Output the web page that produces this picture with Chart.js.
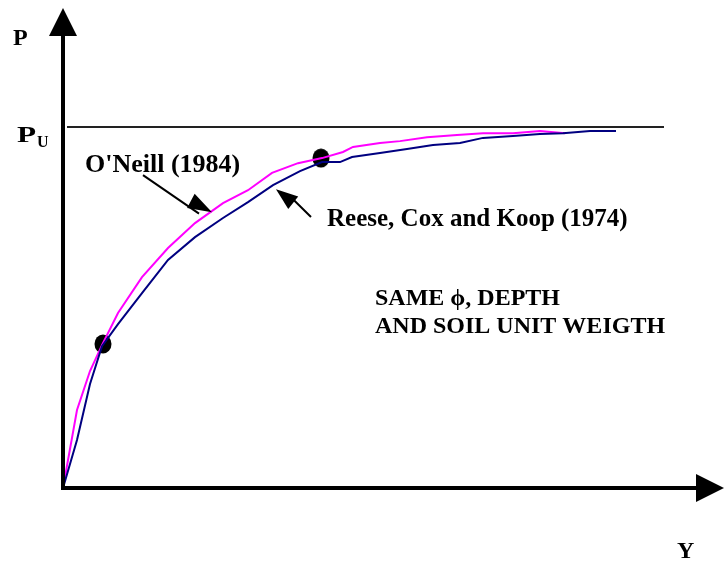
<!DOCTYPE html>
<html>
<head>
<meta charset="utf-8">
<script src="https://cdn.jsdelivr.net/npm/chart.js@4"></script>
<style>
  html, body { margin: 0; padding: 0; background: #fff; }
  #wrap { width: 724px; height: 564px; position: relative; }
</style>
</head>
<body>
<div id="wrap"><canvas id="py-chart"></canvas></div>
<script>
// deflection Y (arbitrary units) and load ratio P / Pu
const oneillY = [0, 0.14, 0.27, 0.39, 0.55, 0.79, 1.05, 1.32, 1.60, 1.85, 2.09, 2.35, 2.59, 2.80, 2.90, 3.17, 3.37, 3.64, 3.94, 4.20, 4.50, 4.77, 5.02];
const oneillP = [0, 0.216, 0.324, 0.396, 0.485, 0.584, 0.665, 0.734, 0.789, 0.825, 0.873, 0.900, 0.914, 0.931, 0.945, 0.956, 0.961, 0.972, 0.978, 0.983, 0.983, 0.989, 0.983];

const reeseY = [0, 0.14, 0.27, 0.39, 0.55, 0.79, 1.05, 1.32, 1.60, 1.85, 2.10, 2.37, 2.59, 2.77, 2.89, 3.17, 3.44, 3.70, 3.97, 4.20, 4.50, 4.77, 5.00, 5.27, 5.53];
const reeseP = [0, 0.133, 0.288, 0.393, 0.454, 0.540, 0.632, 0.695, 0.748, 0.792, 0.839, 0.878, 0.903, 0.903, 0.917, 0.928, 0.939, 0.950, 0.956, 0.970, 0.975, 0.981, 0.983, 0.989, 0.989];

const ultimateY = [0.04, 6.01];
const ultimateP = [1, 1];

const markerY = [0.40, 2.58];
const markerP = [0.399, 0.914];

const toPoints = (xs, ys) => xs.map((x, i) => ({x: x, y: ys[i]}));

const FONT = "'Liberation Serif', 'Times New Roman', serif";

// slightly tall black dot like the original markers
function makeDot() {
  const c = document.createElement("canvas");
  c.width = 18;
  c.height = 20;
  const g = c.getContext("2d");
  g.fillStyle = "#000";
  g.beginPath();
  g.ellipse(9, 10, 8.5, 9.5, 0, 0, Math.PI * 2);
  g.fill();
  return c;
}

function arrowHead(ctx, x1, y1, x2, y2, len, half) {
  const a = Math.atan2(y2 - y1, x2 - x1);
  ctx.beginPath();
  ctx.moveTo(x2, y2);
  ctx.lineTo(x2 - len * Math.cos(a) + half * Math.sin(a), y2 - len * Math.sin(a) - half * Math.cos(a));
  ctx.lineTo(x2 - len * Math.cos(a) - half * Math.sin(a), y2 - len * Math.sin(a) + half * Math.cos(a));
  ctx.closePath();
  ctx.fill();
}

const decorations = {
  id: "decorations",
  afterDatasetsDraw(chart) {
    const ctx = chart.ctx;
    const xs = chart.scales.x, ys = chart.scales.y;
    const px = v => xs.getPixelForValue(v);
    const py = v => ys.getPixelForValue(v);
    const x0 = px(0), y0 = py(0);

    ctx.save();
    ctx.fillStyle = "#000";
    ctx.strokeStyle = "#000";

    // axes with arrow heads
    ctx.lineWidth = 4;
    ctx.beginPath();
    ctx.moveTo(x0, y0 + 2);
    ctx.lineTo(x0, 35);
    ctx.moveTo(x0 - 2, y0);
    ctx.lineTo(chart.width - 27, y0);
    ctx.stroke();
    arrowHead(ctx, x0, 40, x0, 8, 28, 14);
    arrowHead(ctx, chart.width - 30, y0, chart.width, y0, 28, 14);

    // annotation arrows
    ctx.lineWidth = 2;
    ctx.beginPath();
    ctx.moveTo(px(0.80), py(0.867));
    ctx.lineTo(px(1.36), py(0.760));
    ctx.moveTo(px(2.48), py(0.751));
    ctx.lineTo(px(2.30), py(0.800));
    ctx.stroke();
    arrowHead(ctx, px(0.80), py(0.867), px(1.49), py(0.764), 24, 8);
    arrowHead(ctx, px(2.48), py(0.751), px(2.13), py(0.828), 22, 8);

    ctx.textBaseline = "alphabetic";
    ctx.textAlign = "left";

    ctx.font = "bold 24px " + FONT;
    ctx.fillText("P", x0 - 50, 45);
    ctx.save();
    ctx.translate(x0 - 46, py(1) + 15);
    ctx.scale(1.3, 1);
    ctx.fillText("P", 0, 0);
    ctx.restore();
    ctx.font = "bold 16px " + FONT;
    ctx.fillText("U", x0 - 26, py(1) + 20);
    ctx.font = "bold 24px " + FONT;
    ctx.fillText("Y", chart.width - 47, y0 + 70);

    ctx.font = "bold 26px " + FONT;
    ctx.fillText("O'Neill (1984)", px(0.22), py(0.875));
    ctx.font = "bold 25px " + FONT;
    ctx.fillText("Reese, Cox and Koop (1974)", px(2.64), py(0.726));
    ctx.font = "bold 24px " + FONT;
    ctx.fillText("SAME \u03d5, DEPTH", px(3.12), py(0.507));
    ctx.fillText("AND SOIL UNIT WEIGTH", px(3.12), py(0.429));
    ctx.restore();
  }
};

new Chart(document.getElementById("py-chart"), {
  type: "line",
  data: {
    datasets: [
      {
        label: "Pu",
        data: toPoints(ultimateY, ultimateP),
        borderColor: "#222",
        borderWidth: 2,
        pointRadius: 0
      },
      {
        label: "Reese, Cox and Koop (1974)",
        data: toPoints(reeseY, reeseP),
        borderColor: "#000080",
        borderWidth: 2,
        pointRadius: 0,
        tension: 0
      },
      {
        label: "O'Neill (1984)",
        data: toPoints(oneillY, oneillP),
        borderColor: "#ff00ff",
        borderWidth: 2,
        pointRadius: 0,
        tension: 0
      },
      {
        label: "markers",
        data: toPoints(markerY, markerP),
        showLine: false,
        pointStyle: makeDot(),
        pointRadius: 9
      }
    ]
  },
  options: {
    responsive: true,
    maintainAspectRatio: false,
    animation: false,
    layout: {autoPadding: false, padding: {left: 63, right: 0, top: 0, bottom: 76}},
    plugins: {
      legend: {display: false},
      tooltip: {enabled: false}
    },
    scales: {
      x: {type: "linear", min: 0, max: 6.61, display: false},
      y: {type: "linear", min: 0, max: 1.352, display: false}
    }
  },
  plugins: [decorations]
});
</script>
</body>
</html>
